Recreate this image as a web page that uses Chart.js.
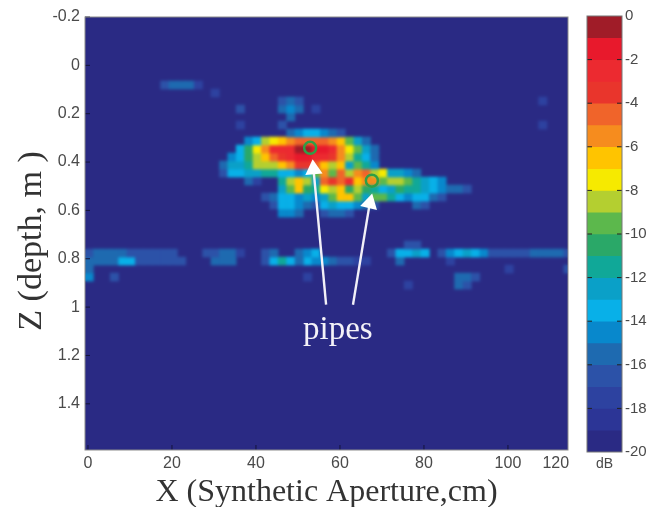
<!DOCTYPE html>
<html>
<head>
<meta charset="utf-8">
<style>
  html, body { margin: 0; padding: 0; background: #fff; }
  #wrap { position: relative; width: 647px; height: 507px; overflow: hidden; }
  #map { position: absolute; left: 0; top: 0; }
  #bar { position: absolute; left: 570px; top: 0; filter: blur(0.5px); }
</style>
<script src="https://cdn.jsdelivr.net/npm/chart.js@4/dist/chart.umd.min.js"></script>
</head>
<body>
<div id="wrap">
  <canvas id="map" width="647" height="507"></canvas>
  <canvas id="bar" width="77" height="507"></canvas>
</div>
<script>
// dB colour bands, 0 down to -20
const bandColors = ['#a01c28', '#e8192c', '#ec2a30', '#e9352c', '#f0642a', '#f68c1e', '#ffc400', '#f6ea00',
  '#b4cf30', '#5cb84c', '#2aa868', '#10a898', '#0aa0c8', '#08b0e8', '#0888cc', '#1e6ab0',
  '#2c52a8', '#2d42a0', '#2c3596', '#2a2a84'];

const xTickValues = [0, 20, 40, 60, 80, 100, 111.4];
const xTickLabels = ['0', '20', '40', '60', '80', '100', '120'];
const zTickValues = [-0.2, 0, 0.2, 0.4, 0.6, 0.8, 1, 1.2, 1.4];

// Pixel map cell size in axis units
const cellWidth = 2;
const cellHeight = 0.0331;
const firstX = -0.71;
const firstZ = -0.2;

// Sparse cells, everything not listed sits at the -20 dB floor
const cellRows = [8, 9, 10, 10, 11, 11, 11, 12, 13, 13, 13, 14, 15, 16, 17, 18, 19, 20, 21, 22, 23, 23, 24, 24,
  28, 29, 29, 29, 29, 29, 30, 30, 30, 30, 30, 30, 31, 31, 31, 32, 32, 32, 32, 33, 33];
const cellStarts = [9, 15, 23, 54, 18, 23, 27, 24, 18, 23, 54, 24, 19, 18, 17, 16, 16, 19, 23, 21, 22, 39, 23, 28,
  38, 0, 14, 21, 25, 36, 0, 15, 21, 26, 37, 43, 0, 50, 57, 0, 3, 26, 44, 38, 44];
const cellDb = [
  [-17, -16, -16, -16, -18],
  [-18],
  [-17, -16, -17],
  [-18],
  [-17],
  [-16, -15, -16],
  [-18],
  [-16],
  [-18],
  [-17],
  [-18],
  [-16, -15, -14, -14, -15, -16, -17],
  [-15, -14, -9, -8, -7, -6, -5, -5, -5, -5, -6, -7, -10, -13, -16],
  [-14, -11, -8, -6, -3, -3, -3, -1, -1, -2, -2, -3, -6, -8, -10, -13, -16],
  [-15, -14, -11, -9, -7, -5, -4, -3, -2, -2, -3, -3, -4, -6, -9, -12, -14, -16],
  [-16, -13, -13, -12, -9, -9, -9, -7, -6, -4, -4, -5, -7, -9, -7, -13, -10, -12, -15],
  [-17, -14, -14, -13, -13, -12, -12, -14, -14, -15, -14, -10, -6, -10, -5, -9, -6, -5, -9, -8, -13, -13, -15, -16],
  [-16, -18, -20, -20, -12, -9, -7, -9, -13, -5, -4, -5, -3, -7, -6, -6, -10, -9, -9, -10, -12, -13, -14, -15],
  [-13, -10, -7, -11, -12, -8, -9, -7, -11, -9, -11, -12, -14, -13, -11, -12, -12, -13, -14, -15, -16, -16, -17],
  [-17, -16, -14, -14, -15, -13, -15, -13, -10, -7, -7, -10, -13, -10, -10, -12, -14, -15, -14, -14, -16, -17],
  [-17, -14, -14, -15, -16, -17, -14, -13, -14, -14, -15, -16, -17],
  [-16, -17],
  [-15, -15, -16],
  [-17, -16, -16, -17],
  [-17, -17],
  [-17, -16, -16, -16, -16, -17, -17, -17, -17, -17, -17],
  [-17, -17, -16, -16, -18],
  [-17, -16],
  [-16, -15, -14],
  [-17, -14, -14, -13, -14, -20, -17, -15, -14, -13, -14, -15, -17, -17, -17, -17, -17, -16, -16, -16, -16, -17],
  [-16, -16, -16, -16, -14, -14, -17, -17, -17, -17, -17, -17],
  [-16, -16, -16],
  [-17, -14, -12, -14, -16, -20, -20, -20, -20, -20, -20, -18],
  [-14, -15, -15, -16, -17, -17, -17, -18],
  [-16],
  [-18],
  [-16],
  [-18],
  [-17],
  [-15],
  [-17],
  [-18],
  [-16, -16, -17],
  [-18],
  [-16, -17]
];

// Pipes: marker circles and the arrows pointing at them
const pipeX = [52.9, 67.6];
const pipeZ = [0.341, 0.477];
const arrowLeftX = [56.7, 53.7];
const arrowLeftZ = [0.99, 0.43];
const arrowRightX = [63.1, 67.1];
const arrowRightZ = [0.99, 0.57];

const xTitle = 'X (Synthetic Aperture,cm)';
const zTitle = 'Z (depth, m )';
const pipeLabel = 'pipes';
const pipeLabelX = 59.5;
const pipeLabelZ = 1.095;

// Turn the sparse rows into one bar dataset per block of cells
function buildCellDatasets() {
  return cellRows.map((row, n) => {
    const points = [];
    const colors = [];
    cellDb[n].forEach((db, i) => {
      if (db <= -20) return;
      const col = cellStarts[n] + i;
      points.push({
        x: firstX + cellWidth * col + cellWidth / 2,
        y: [firstZ + cellHeight * row, firstZ + cellHeight * (row + 1)]
      });
      colors.push(bandColors[-db - 1]);
    });
    return {
      type: 'bar',
      data: points,
      backgroundColor: colors,
      borderWidth: 0,
      barThickness: 8.4,
      inflateAmount: 0.3,
      grouped: false,
      order: 3
    };
  });
}

function toPoints(xs, ys) {
  return xs.map((x, i) => ({ x: x, y: ys[i] }));
}

function arrowDataset(xs, zs, rotation) {
  return {
    type: 'line',
    data: toPoints(xs, zs),
    borderColor: '#f2f0f8',
    borderWidth: 2.4,
    pointRadius: [0, 10],
    pointStyle: 'triangle',
    pointRotation: rotation,
    pointBackgroundColor: '#ffffff',
    pointBorderWidth: 0,
    order: 1
  };
}

// Floor colour, soft cell edges, inward ticks, frame, depth title and the "pipes" caption
const mapDecor = {
  id: 'mapDecor',
  beforeDatasetsDraw(chart) {
    const { ctx, chartArea: a } = chart;
    ctx.save();
    ctx.fillStyle = bandColors[19];
    ctx.fillRect(a.left, a.top, a.width, a.height);
    ctx.restore();
  },
  afterDatasetDraw(chart, args) {
    // dataset 0 is the last of the cells to be painted
    if (args.index !== 0) return;
    const { ctx, chartArea: a } = chart;
    ctx.save();
    ctx.beginPath();
    ctx.rect(a.left, a.top, a.width, a.height);
    ctx.clip();
    ctx.filter = 'blur(1.4px)';
    ctx.drawImage(chart.canvas, 0, 0);
    ctx.restore();
  },
  afterDatasetsDraw(chart) {
    const { ctx, chartArea: a, scales } = chart;
    ctx.save();
    ctx.strokeStyle = '#14143c';
    ctx.lineWidth = 1;
    ctx.beginPath();
    xTickValues.slice(0, 6).forEach(v => {
      const px = scales.x.getPixelForValue(v);
      ctx.moveTo(px, a.bottom);
      ctx.lineTo(px, a.bottom - 5);
    });
    zTickValues.forEach(v => {
      const py = scales.y.getPixelForValue(v);
      ctx.moveTo(a.left, py);
      ctx.lineTo(a.left + 5, py);
    });
    ctx.stroke();
    ctx.strokeStyle = '#8c8c8c';
    ctx.strokeRect(a.left, a.top, a.width, a.height);
    ctx.fillStyle = '#f4f2f8';
    ctx.font = '33px "Liberation Serif"';
    ctx.textAlign = 'center';
    ctx.textBaseline = 'middle';
    ctx.fillText(pipeLabel, scales.x.getPixelForValue(pipeLabelX), scales.y.getPixelForValue(pipeLabelZ));
    ctx.fillStyle = '#333333';
    ctx.font = '34px "Liberation Serif"';
    ctx.translate(32, 241);
    ctx.rotate(-Math.PI / 2);
    ctx.fillText(zTitle, 0, 0);
    ctx.restore();
  }
};

new Chart(document.getElementById('map'), {
  type: 'bar',
  data: {
    datasets: [
      ...buildCellDatasets(),
      {
        type: 'scatter',
        data: toPoints(pipeX, pipeZ),
        pointRadius: 6,
        pointStyle: 'circle',
        pointBackgroundColor: 'rgba(0,0,0,0)',
        pointBorderColor: '#2f9e46',
        pointBorderWidth: 2.5,
        order: 2
      },
      arrowDataset(arrowLeftX, arrowLeftZ, -5),
      arrowDataset(arrowRightX, arrowRightZ, 14)
    ]
  },
  options: {
    responsive: false,
    animation: false,
    layout: { padding: { left: 0, top: 17, right: 79, bottom: 0 } },
    plugins: { legend: { display: false }, tooltip: { enabled: false } },
    scales: {
      x: {
        type: 'linear',
        offset: false,
        min: firstX,
        max: 114.3,
        grid: { display: false, offset: false, drawTicks: false, tickLength: 0 },
        border: { display: false },
        afterBuildTicks: axis => { axis.ticks = xTickValues.map(v => ({ value: v })); },
        afterFit: axis => { axis.height = 57; },
        ticks: {
          autoSkip: false,
          maxRotation: 0,
          padding: 4,
          color: '#4a4a4a',
          font: { family: 'Liberation Sans', size: 16 },
          callback: value => xTickLabels[xTickValues.indexOf(value)]
        },
        title: {
          display: true,
          text: xTitle,
          color: '#333333',
          padding: { top: 0, bottom: -5 },
          font: { family: 'Liberation Serif', size: 32 }
        }
      },
      y: {
        type: 'linear',
        reverse: true,
        min: firstZ,
        max: 1.591,
        grid: { display: false, drawTicks: false, tickLength: 0 },
        border: { display: false },
        afterBuildTicks: axis => { axis.ticks = zTickValues.map(v => ({ value: v })); },
        afterFit: axis => { axis.width = 85; },
        ticks: {
          autoSkip: false,
          padding: 5,
          color: '#4a4a4a',
          font: { family: 'Liberation Sans', size: 16 },
          callback: value => String(Number(value.toFixed(1)))
        }
      }
    }
  },
  plugins: [mapDecor]
});

// Colour bar, one floating bar per dB band
const barLabels = ['dB'];
const barTicks = [0, -2, -4, -6, -8, -10, -12, -14, -16, -18, -20];

const barDecor = {
  id: 'barDecor',
  afterDatasetsDraw(chart) {
    const { ctx, chartArea: a, scales } = chart;
    ctx.save();
    ctx.strokeStyle = '#222222';
    ctx.beginPath();
    barTicks.slice(1, 10).forEach(v => {
      const py = scales.y.getPixelForValue(v);
      ctx.moveTo(a.left, py);
      ctx.lineTo(a.left + 5, py);
      ctx.moveTo(a.right, py);
      ctx.lineTo(a.right - 5, py);
    });
    ctx.stroke();
    ctx.strokeStyle = '#777777';
    ctx.strokeRect(a.left, a.top, a.width, a.height);
    ctx.restore();
  }
};

new Chart(document.getElementById('bar'), {
  type: 'bar',
  data: {
    labels: barLabels,
    datasets: bandColors.map((color, i) => ({
      data: [[-i, -i - 1]],
      backgroundColor: color,
      borderWidth: 0,
      inflateAmount: 0.3,
      grouped: false,
      barPercentage: 1,
      categoryPercentage: 1
    }))
  },
  options: {
    responsive: false,
    animation: false,
    layout: { padding: { left: 17, top: 16, right: 0, bottom: 0 } },
    plugins: { legend: { display: false }, tooltip: { enabled: false } },
    scales: {
      x: {
        grid: { display: false, drawTicks: false, tickLength: 0 },
        border: { display: false },
        afterFit: axis => { axis.height = 55; },
        ticks: { padding: 4, color: '#4a4a4a', font: { family: 'Liberation Sans', size: 14 } }
      },
      y: {
        position: 'right',
        min: -20,
        max: 0,
        grid: { display: false, drawTicks: false, tickLength: 0 },
        border: { display: false },
        afterBuildTicks: axis => { axis.ticks = barTicks.map(v => ({ value: v })); },
        afterFit: axis => { axis.width = 25; },
        ticks: { padding: 3, color: '#4a4a4a', font: { family: 'Liberation Sans', size: 15 } }
      }
    }
  },
  plugins: [barDecor]
});
</script>
</body>
</html>
